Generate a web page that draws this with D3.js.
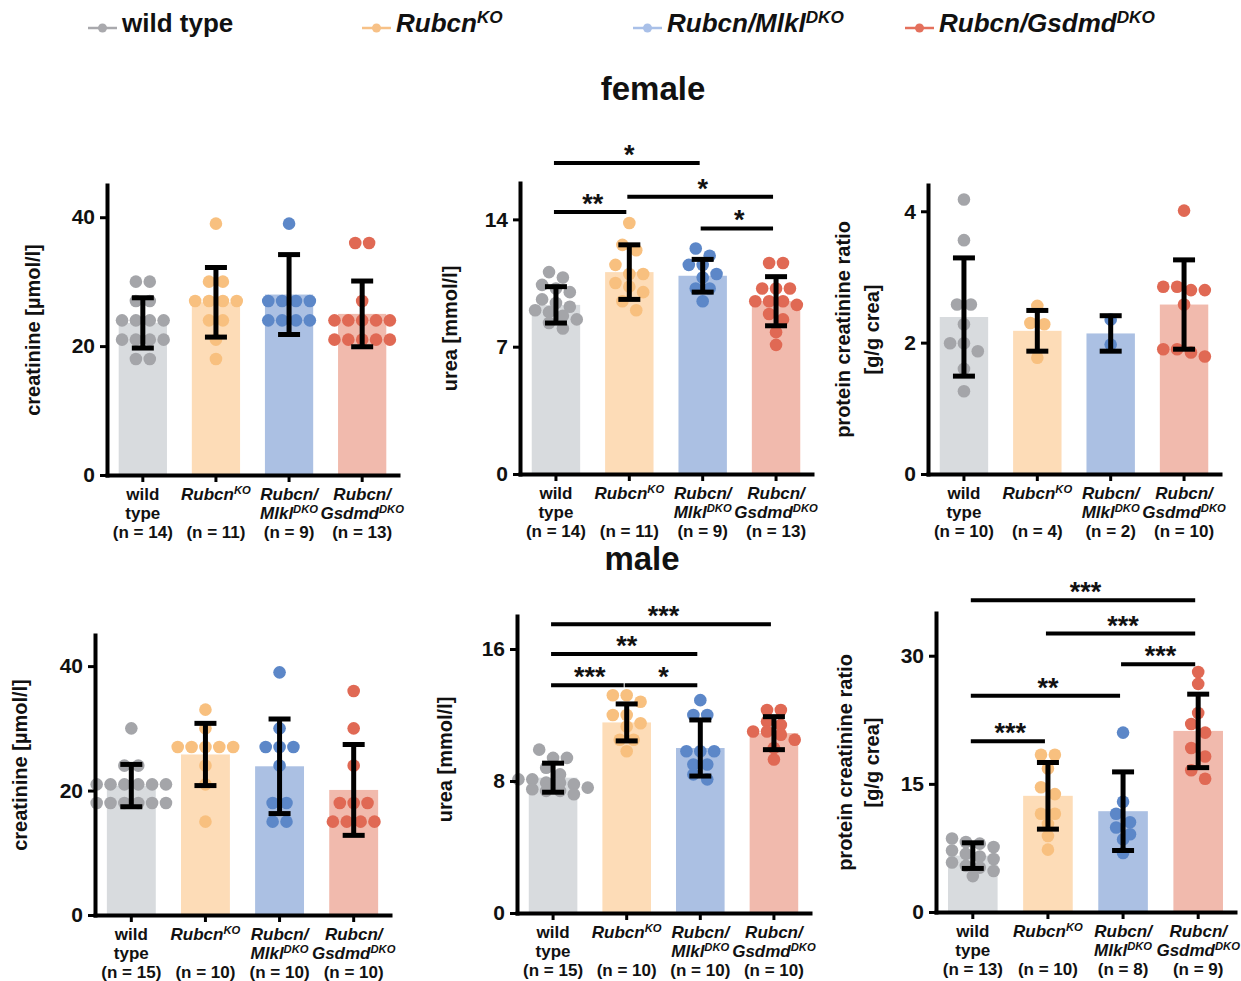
<!DOCTYPE html>
<html>
<head>
<meta charset="utf-8">
<script src="https://cdn.jsdelivr.net/npm/d3@7"></script>
<style>
  body { margin: 0; background: #fff; }
  text { font-family: "Liberation Sans", Arial, sans-serif; font-weight: bold; fill: #111; }
</style>
</head>
<body>
<svg id="fig" width="1241" height="981"></svg>
<script>
// groups + colours
const groups = ["wt", "ko", "mlkl", "gsdmd"];
const barColors = ["#d8dbde", "#fddcb7", "#abc0e3", "#f1baad"];
const dotColors = ["#a4a5a9", "#f8c07f", "#5c87c8", "#e06954"];
const legendColors = ["#a9a9ad", "#f7c187", "#a9c0e8", "#e4705c"];

// label pieces: t = text, i = italic, sup = superscript
const legendLabels = [
  [{t: "wild type"}],
  [{t: "Rubcn", i: true}, {t: "KO", i: true, sup: true}],
  [{t: "Rubcn/Mlkl", i: true}, {t: "DKO", i: true, sup: true}],
  [{t: "Rubcn/Gsdmd", i: true}, {t: "DKO", i: true, sup: true}]
];
const tickLabels = [
  [[{t: "wild"}], [{t: "type"}]],
  [[{t: "Rubcn", i: true}, {t: "KO", i: true, sup: true}], []],
  [[{t: "Rubcn/", i: true}], [{t: "Mlkl", i: true}, {t: "DKO", i: true, sup: true}]],
  [[{t: "Rubcn/", i: true}], [{t: "Gsdmd", i: true}, {t: "DKO", i: true, sup: true}]]
];

// female creatinine
const fCreaMean = [23.6, 26.8, 28.0, 25.0];
const fCreaSd = [3.9, 5.4, 6.2, 5.1];
const fCreaN = [14, 11, 9, 13];
const fCreaPts = [
  [30, 30, 27, 27, 24, 24, 24, 24, 21, 21, 21, 21, 18, 18],
  [39, 30, 30, 27, 27, 27, 27, 24, 24, 21, 18],
  [39, 27, 27, 27, 27, 24, 24, 24, 24],
  [36, 36, 27, 24, 24, 24, 24, 24, 21, 21, 21, 21, 21]
];
const fCreaSig = [];

// female urea
const fUreaMean = [9.3, 11.1, 10.9, 9.5];
const fUreaSd = [1.0, 1.5, 0.9, 1.35];
const fUreaN = [14, 11, 9, 13];
const fUreaPts = [
  [11.1, 10.8, 10.4, 10.2, 10.0, 9.6, 9.4, 9.2, 9.0, 8.9, 8.7, 8.5, 8.3, 8.0],
  [13.8, 12.6, 12.3, 11.5, 11.0, 11.0, 10.5, 10.3, 10.0, 9.5, 9.0],
  [12.4, 12.0, 11.5, 11.5, 11.0, 10.8, 10.2, 10.2, 9.5],
  [11.6, 11.6, 10.2, 10.2, 10.2, 9.5, 9.5, 9.5, 9.3, 8.8, 8.5, 7.8, 7.1]
];
const fUreaSig = [
  {a: 0, b: 2, y: 17.1, s: "*"},
  {a: 1, b: 3, y: 15.25, s: "*"},
  {a: 0, b: 1, y: 14.4, s: "**"},
  {a: 2, b: 3, y: 13.5, s: "*"}
];

// female protein/creatinine
const fProtMean = [2.39, 2.18, 2.14, 2.58];
const fProtSd = [0.9, 0.31, 0.27, 0.68];
const fProtN = [10, 4, 2, 10];
const fProtPts = [
  [4.18, 3.56, 2.58, 2.58, 2.28, 1.99, 1.99, 1.87, 1.6, 1.26],
  [2.56, 2.3, 2.28, 1.77],
  [2.35, 1.97],
  [4.01, 2.85, 2.85, 2.8, 2.8, 2.58, 1.9, 1.9, 1.85, 1.79]
];
const fProtSig = [];

// male creatinine
const mCreaMean = [20.8, 25.8, 23.9, 20.1];
const mCreaSd = [3.4, 5.0, 7.6, 7.3];
const mCreaN = [15, 10, 10, 10];
const mCreaPts = [
  [30, 24, 24, 21, 21, 21, 21, 21, 21, 18, 18, 18, 18, 18, 18],
  [33, 30, 27, 27, 27, 27, 27, 24, 21, 15],
  [39, 30, 27, 27, 27, 24, 18, 18, 15, 15],
  [36, 30, 24, 18, 18, 18, 15, 15, 15, 15]
];
const mCreaSig = [];

// male urea
const mUreaMean = [8.2, 11.55, 10.0, 10.9];
const mUreaSd = [0.88, 1.12, 1.7, 1.0];
const mUreaN = [15, 10, 10, 10];
const mUreaPts = [
  [9.9, 9.4, 9.4, 8.8, 8.4, 8.1, 8.1, 7.9, 7.9, 7.8, 7.6, 7.5, 7.4, 7.4, 7.2],
  [13.2, 13.2, 12.8, 12.0, 12.0, 11.5, 11.3, 10.5, 10.5, 9.8],
  [12.9, 12.0, 12.0, 9.8, 9.8, 9.8, 9.0, 9.0, 8.4, 8.1],
  [12.3, 12.3, 11.6, 11.4, 11.0, 11.0, 10.8, 10.5, 10.0, 9.3]
];
const mUreaSig = [
  {a: 0, b: 3, y: 17.5, s: "***"},
  {a: 0, b: 2, y: 15.7, s: "**"},
  {a: 0, b: 1, y: 13.8, s: "***"},
  {a: 1, b: 2, y: 13.8, s: "*"}
];

// male protein/creatinine
const mProtMean = [6.6, 13.6, 11.8, 21.2];
const mProtSd = [1.5, 3.9, 4.6, 4.3];
const mProtN = [13, 10, 8, 9];
const mProtPts = [
  [8.6, 8.2, 8.0, 7.6, 7.2, 6.8, 6.5, 6.2, 5.8, 5.4, 5.2, 4.8, 4.2],
  [18.4, 18.4, 16.8, 14.6, 13.8, 11.5, 11.5, 10.3, 8.9, 7.3],
  [21.0, 12.9, 11.5, 10.5, 9.9, 9.1, 8.5, 6.9],
  [28.1, 26.7, 23.3, 22.0, 21.0, 19.2, 18.2, 16.6, 15.6]
];
const mProtSig = [
  {a: 0, b: 3, y: 36.5, s: "***"},
  {a: 1, b: 3, y: 32.6, s: "***"},
  {a: 2, b: 3, y: 29.0, s: "***"},
  {a: 0, b: 2, y: 25.3, s: "**"},
  {a: 0, b: 1, y: 20.0, s: "***"}
];

// panel layout
const panels = [
  {x: 107, w: 291, y0: 475, top: 185, max: 45, ticks: [0, 20, 40], ylab: ["creatinine [µmol/l]"], labX: [-74], labDy: 0,
   mean: fCreaMean, sd: fCreaSd, n: fCreaN, pts: fCreaPts, sig: fCreaSig},
  {x: 520, w: 292, y0: 474, top: 183, max: 16, ticks: [0, 7, 14], ylab: ["urea [mmol/l]"], labX: [-70], labDy: 0,
   mean: fUreaMean, sd: fUreaSd, n: fUreaN, pts: fUreaPts, sig: fUreaSig},
  {x: 928, w: 292, y0: 474, top: 185, max: 4.4, ticks: [0, 2, 4], ylab: ["protein creatinine ratio", "[g/g crea]"], labX: [-85, -56], labDy: 0,
   mean: fProtMean, sd: fProtSd, n: fProtN, pts: fProtPts, sig: fProtSig},
  {x: 95, w: 295, y0: 915, top: 635, max: 45, ticks: [0, 20, 40], ylab: ["creatinine [µmol/l]"], labX: [-75], labDy: -10,
   mean: mCreaMean, sd: mCreaSd, n: mCreaN, pts: mCreaPts, sig: mCreaSig},
  {x: 517, w: 293, y0: 913, top: 616, max: 18, ticks: [0, 8, 16], ylab: ["urea [mmol/l]"], labX: [-72], labDy: -5,
   mean: mUreaMean, sd: mUreaSd, n: mUreaN, pts: mUreaPts, sig: mUreaSig},
  {x: 936, w: 299, y0: 912, top: 613, max: 35, ticks: [0, 15, 30], ylab: ["protein creatinine ratio", "[g/g crea]"], labX: [-91, -64], labDy: 0,
   mean: mProtMean, sd: mProtSd, n: mProtN, pts: mProtPts, sig: mProtSig}
];

const svg = d3.select("#fig");
const R = 6.3;

function rich(textSel, parts, fs) {
  parts.forEach(p => {
    const ts = textSel.append("tspan").text(p.t);
    if (p.i) ts.attr("font-style", "italic");
    if (p.sup) ts.attr("font-size", fs * 0.66).attr("dy", -fs * 0.34);
  });
}

// legend
const legendX = [88, 362, 633, 905];
legendLabels.forEach((parts, i) => {
  const g = svg.append("g").attr("transform", `translate(${legendX[i]},0)`);
  g.append("line").attr("x1", 0).attr("x2", 29).attr("y1", 28).attr("y2", 28)
    .attr("stroke", legendColors[i]).attr("stroke-width", 2.5);
  g.append("circle").attr("cx", 14.5).attr("cy", 28).attr("r", 4.5).attr("fill", legendColors[i]);
  const t = g.append("text").attr("x", 34).attr("y", 32).attr("font-size", 26);
  rich(t, parts, 26);
});

svg.append("text").attr("x", 653).attr("y", 100).attr("text-anchor", "middle").attr("font-size", 33).text("female");
svg.append("text").attr("x", 642).attr("y", 570).attr("text-anchor", "middle").attr("font-size", 33).text("male");

function drawPanel(p) {
  const x = d3.scaleBand().domain(groups).range([p.x, p.x + p.w]).paddingInner(0.34).paddingOuter(0.16);
  const y = d3.scaleLinear().domain([0, p.max]).range([p.y0, p.top]);
  const cx = i => x(groups[i]) + x.bandwidth() / 2;
  const g = svg.append("g");

  g.selectAll("rect.bar").data(p.mean).join("rect").attr("class", "bar")
    .attr("x", (d, i) => x(groups[i])).attr("width", x.bandwidth())
    .attr("y", d => y(d)).attr("height", d => y(0) - y(d))
    .attr("fill", (d, i) => barColors[i]);

  // dots, laid out in rows like a scatter dot plot
  p.pts.forEach((vals, i) => {
    const sorted = vals.map(v => ({v, py: y(v)})).sort((a, b) => a.py - b.py);
    const rows = [];
    sorted.forEach(d => {
      const last = rows[rows.length - 1];
      if (last && d.py - last[0].py < R * 1.5) last.push(d); else rows.push([d]);
    });
    const placed = [];
    rows.forEach(row => {
      row.forEach((d, k) => { d.px = cx(i) + (k - (row.length - 1) / 2) * R * 2.2; placed.push(d); });
    });
    g.selectAll(null).data(placed).join("circle")
      .attr("cx", d => d.px).attr("cy", d => d.py).attr("r", R)
      .attr("fill", dotColors[i]);
  });

  // error bars (mean ± SD)
  p.mean.forEach((m, i) => {
    const e = g.append("g").attr("stroke", "#000").attr("stroke-width", 5);
    e.append("line").attr("x1", cx(i)).attr("x2", cx(i)).attr("y1", y(m + p.sd[i])).attr("y2", y(m - p.sd[i]));
    [m + p.sd[i], m - p.sd[i]].forEach(v => {
      e.append("line").attr("x1", cx(i) - 11).attr("x2", cx(i) + 11).attr("y1", y(v)).attr("y2", y(v));
    });
  });

  // axes
  const ya = g.append("g").attr("transform", `translate(${p.x},0)`)
    .call(d3.axisLeft(y).tickValues(p.ticks).tickSize(7).tickSizeOuter(0).tickPadding(5).tickFormat(d3.format("~g")));
  const xa = g.append("g").attr("transform", `translate(0,${p.y0})`)
    .call(d3.axisBottom(x).tickSize(7).tickSizeOuter(0).tickFormat(""));
  [ya, xa].forEach(a => {
    a.select(".domain").attr("stroke", "#000").attr("stroke-width", 4).attr("stroke-linecap", "square");
    a.selectAll(".tick line").attr("stroke", "#000").attr("stroke-width", 3);
  });
  ya.selectAll(".tick text").attr("font-size", 21).attr("fill", "#111")
    .attr("font-family", '"Liberation Sans", Arial, sans-serif');

  // category labels
  groups.forEach((gname, i) => {
    tickLabels[i].forEach((line, li) => {
      if (!line.length) return;
      const lt = g.append("text").attr("text-anchor", "middle").attr("font-size", 17)
        .attr("x", cx(i)).attr("y", p.y0 + 25 + li * 19);
      rich(lt, line, 17);
    });
    g.append("text").attr("text-anchor", "middle").attr("font-size", 17)
      .attr("x", cx(i)).attr("y", p.y0 + 63).text(`(n = ${p.n[i]})`);
  });

  // y label
  const yc = (p.y0 + p.top) / 2 + p.labDy;
  p.ylab.forEach((lab, k) => {
    const lx = p.x + p.labX[k];
    g.append("text").attr("transform", `translate(${lx},${yc}) rotate(-90)`)
      .attr("text-anchor", "middle").attr("dy", "0.35em").attr("font-size", 20).text(lab);
  });

  // significance
  p.sig.forEach(s => {
    g.append("line").attr("x1", cx(s.a) - 2).attr("x2", cx(s.b) - 3)
      .attr("y1", y(s.y)).attr("y2", y(s.y)).attr("stroke", "#000").attr("stroke-width", 4);
    g.append("text").attr("x", (cx(s.a) + cx(s.b)) / 2).attr("y", y(s.y) + 1)
      .attr("text-anchor", "middle").attr("font-size", 27).text(s.s);
  });
}

panels.forEach(drawPanel);
</script>
</body>
</html>
